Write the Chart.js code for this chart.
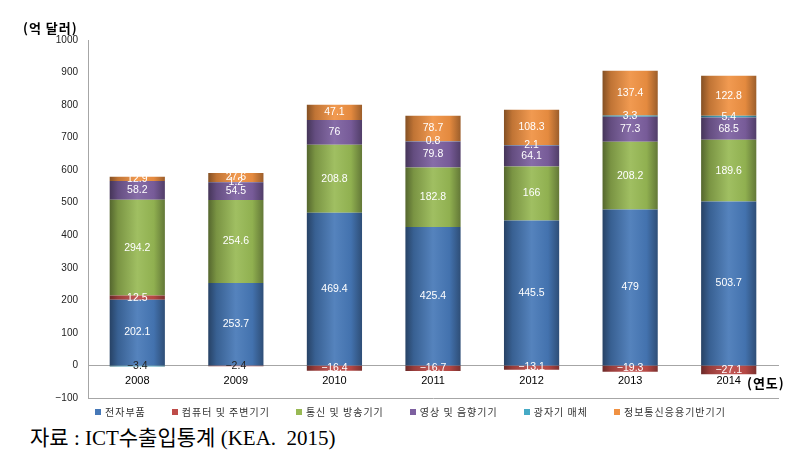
<!DOCTYPE html>
<html>
<head>
<meta charset="utf-8">
<script src="https://cdn.jsdelivr.net/npm/chart.js@4.4.1/dist/chart.umd.min.js"></script>
<style>
    body { margin: 0; width: 809px; height: 462px; background: #fff; position: relative; overflow: hidden; }
    #wrap { position: absolute; left: 0; top: 0; width: 809px; height: 406px; }
    .unit { position: absolute; font-family: 'Noto Sans CJK KR', sans-serif; font-weight: bold; font-size: 13px; letter-spacing: 1px; color: #000; }
    #legend { position: absolute; left: 95px; top: 404px; display: flex; font-family: 'Noto Sans CJK KR', sans-serif; font-size: 10px; color: #333; letter-spacing: 1px; }
    #legend span { display: flex; align-items: center; margin-right: 26px; white-space: nowrap; }
    #legend i { display: inline-block; width: 6px; height: 6px; margin-right: 4px; }
    #source { position: absolute; left: 30px; top: 421px; font-family: 'Liberation Serif', 'Noto Sans CJK KR', serif; font-size: 21px; color: #000; }
</style>
</head>
<body>
<div id="wrap"><canvas id="barChart"></canvas></div>
<div class="unit" style="left:23px; top:18px;">(억 달러)</div>
<div class="unit" style="left:747px; top:373px;">(연도)</div>
<div id="legend"></div>
<div id="source">자료 : ICT수출입통계 (KEA.&nbsp; 2015)</div>
<script>
// 연도
var years = ['2008', '2009', '2010', '2011', '2012', '2013', '2014'];

// 품목별 수출 (억 달러)
var parts = [202.1, 253.7, 469.4, 425.4, 445.5, 479, 503.7];
var computers = [12.5, -2.4, -16.4, -16.7, -13.1, -19.3, -27.1];
var telecom = [294.2, 254.6, 208.8, 182.8, 166, 208.2, 189.6];
var video = [58.2, 54.5, 76, 79.8, 64.1, 77.3, 68.5];
var media = [-3.4, 1.2, 0, 0.8, 2.1, 3.3, 5.4];
var applied = [12.9, 27.6, 47.1, 78.7, 108.3, 137.4, 122.8];

var yTicks = { min: -100, max: 1000, step: 100 };

var barPct = 0.56;

function shade(rgb, f) {
    // f < 0 darker, f > 0 lighter
    return 'rgb(' + rgb.map(function (c) {
        return Math.round(f < 0 ? c * (1 + f) : c + (255 - c) * f);
    }).join(',') + ')';
}

// 원통 느낌의 가로 그라데이션
function cylinder(rgb) {
    return function (ctx) {
        var chart = ctx.chart;
        var xs = chart.scales.x;
        if (!xs || ctx.dataIndex === undefined) return shade(rgb, 0);
        var c = xs.getPixelForValue(ctx.dataIndex);
        var w = (xs.width / years.length) * barPct;
        if (!isFinite(c) || !isFinite(w) || w <= 0) return shade(rgb, 0);
        var g = chart.ctx.createLinearGradient(c - w / 2, 0, c + w / 2, 0);
        g.addColorStop(0, shade(rgb, -0.45));
        g.addColorStop(0.15, shade(rgb, -0.2));
        g.addColorStop(0.5, shade(rgb, 0.08));
        g.addColorStop(0.8, shade(rgb, -0.05));
        g.addColorStop(1, shade(rgb, -0.35));
        return g;
    };
}

var series = [
    { label: '전자부품', data: parts, rgb: [70, 120, 183] },
    { label: '컴퓨터 및 주변기기', data: computers, rgb: [190, 75, 72] },
    { label: '통신 및 방송기기', data: telecom, rgb: [152, 185, 84] },
    { label: '영상 및 음향기기', data: video, rgb: [125, 96, 160] },
    { label: '광자기 매체', data: media, rgb: [70, 170, 197] },
    { label: '정보통신응용기반기기', data: applied, rgb: [240, 145, 66] }
];

// 범례
var legendBox = document.getElementById('legend');
series.forEach(function (s) {
    var item = document.createElement('span');
    item.innerHTML = '<i style="background:' + shade(s.rgb, 0) + '"></i>' + s.label;
    legendBox.appendChild(item);
});

var valueLabels = {
    id: 'valueLabels',
    afterDatasetsDraw: function (chart) {
        var ctx = chart.ctx;
        ctx.save();
        ctx.font = '10.5px "Liberation Sans", Arial, sans-serif';
        ctx.textAlign = 'center';
        ctx.textBaseline = 'middle';
        chart.data.datasets.forEach(function (ds, di) {
            var meta = chart.getDatasetMeta(di);
            meta.data.forEach(function (bar, i) {
                var v = ds.data[i];
                if (!v) return;
                ctx.fillStyle = (v < 0 && v > -5) ? '#222' : '#fff';
                ctx.fillText(String(v).replace('-', '−'), bar.x, (bar.y + bar.base) / 2);
            });
        });
        ctx.restore();
    }
};

var barCtx = document.getElementById('barChart');
new Chart(barCtx, {
    type: 'bar',
    data: {
        labels: years,
        datasets: series.map(function (s) {
            return {
                label: s.label,
                data: s.data,
                backgroundColor: cylinder(s.rgb),
                borderWidth: 0,
                barPercentage: barPct,
                categoryPercentage: 1
            };
        })
    },
    options: {
        responsive: true,
        maintainAspectRatio: false,
        animation: false,
        layout: { padding: { top: 40, right: 31, left: 0, bottom: 0 } },
        plugins: {
            legend: { display: false },
            tooltip: { enabled: false }
        },
        scales: {
            x: {
                stacked: true,
                position: { y: 0 },
                grid: { display: false },
                border: { display: true, color: '#a6a6a6' },
                ticks: {
                    color: '#000',
                    padding: 1,
                    font: { family: "'Liberation Sans', Arial, sans-serif", size: 11 }
                }
            },
            xb: {
                type: 'category',
                labels: years,
                position: 'bottom',
                grid: { display: false },
                border: { display: true, color: '#a6a6a6' },
                ticks: { display: false }
            },
            y: {
                stacked: true,
                min: yTicks.min,
                max: yTicks.max,
                grid: { display: false },
                border: { display: true, color: '#a6a6a6' },
                afterFit: function (s) { s.width = 88; },
                ticks: {
                    stepSize: yTicks.step,
                    color: '#222',
                    padding: 2,
                    font: { family: "'Liberation Sans', Arial, sans-serif", size: 10 },
                    callback: function (v) { return String(v).replace('-', '−'); }
                }
            }
        }
    },
    plugins: [valueLabels]
});
</script>
</body>
</html>
